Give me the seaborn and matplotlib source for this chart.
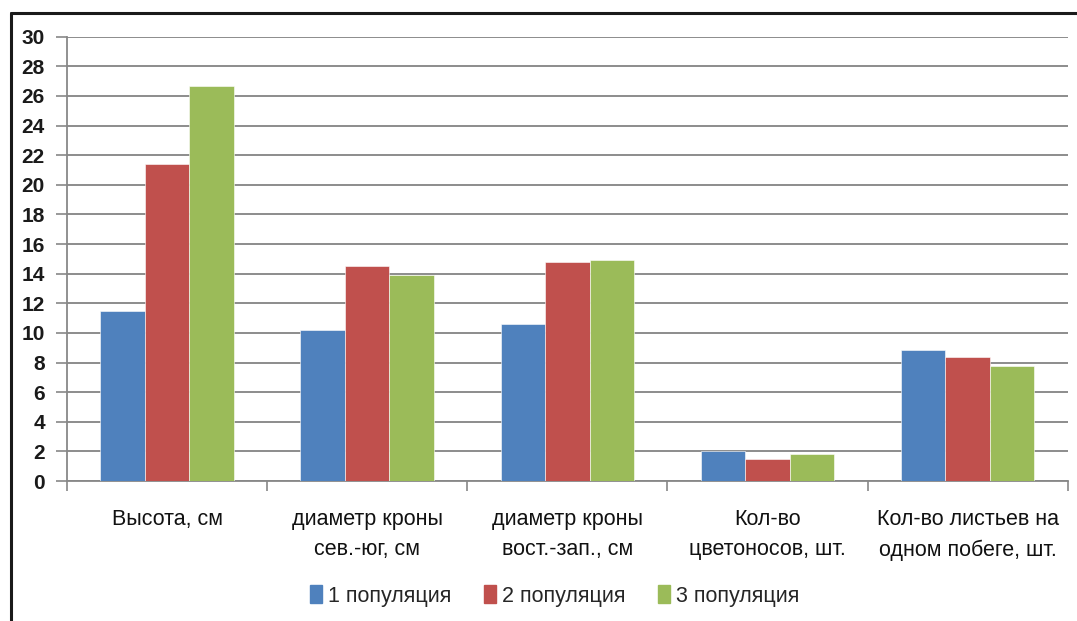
import pandas as pd
import seaborn as sns
import matplotlib.pyplot as plt
from matplotlib.lines import Line2D

# Chart data
categories = [
    "Высота, см",
    "диаметр кроны\nсев.-юг, см",
    "диаметр кроны\nвост.-зап., см",
    "Кол-во\nцветоносов, шт.",
    "Кол-во листьев на\nодном побеге, шт.",
]
series_names = ["1 популяция", "2 популяция", "3 популяция"]
pop1 = [11.5, 10.2, 10.6, 2.0, 8.85]
pop2 = [21.4, 14.5, 14.8, 1.5, 8.35]
pop3 = [26.7, 13.9, 14.9, 1.8, 7.75]
colors = ["#4F81BD", "#C0504D", "#9BBB59"]

rows = []
for name, vals in zip(series_names, [pop1, pop2, pop3]):
    for cat, v in zip(categories, vals):
        rows.append({"category": cat, "series": name, "value": v})
df = pd.DataFrame(rows)

sns.set_style("white")
plt.rcParams["font.family"] = ["Liberation Sans", "DejaVu Sans"]

fig = plt.figure(figsize=(10.77, 6.21), dpi=100)
ax = fig.add_axes([0.0622, 0.2254, 0.9292, 0.7155])

sns.barplot(data=df, x="category", y="value", hue="series", palette=colors,
            saturation=1, width=0.667, gap=0, ax=ax, legend=False, zorder=3,
            edgecolor="white", linewidth=0.4)

ax.set_ylim(0, 30)
ax.set_xlim(-0.5, len(categories) - 0.5)
ax.set_yticks(range(0, 31, 2))
ax.set_yticklabels([str(v) for v in range(0, 31, 2)], fontsize=15,
                   fontweight="bold", color="#1a1a1a")
ax.yaxis.grid(True, color="#8c8c8c", linewidth=1.4, zorder=0)
ax.set_axisbelow(True)

# category labels without ticks, boundary ticks as minor ticks
ax.set_xticks(range(len(categories)))
ax.set_xticklabels(categories, fontsize=15.5, linespacing=1.6, color="#111111")
ax.tick_params(axis="x", which="major", length=0, pad=20)
ax.set_xticks([i - 0.5 for i in range(len(categories) + 1)], minor=True)
ax.tick_params(axis="x", which="minor", length=7, width=1.2, color="#888888",
               direction="out", bottom=True)
ax.tick_params(axis="y", length=8, width=1.2, color="#888888", left=True,
               direction="out", pad=8)

for side in ["top", "right"]:
    ax.spines[side].set_visible(False)
ax.spines["left"].set_color("#888888")
ax.spines["left"].set_linewidth(1.3)
ax.spines["bottom"].set_color("#888888")
ax.spines["bottom"].set_linewidth(1.3)
ax.set_xlabel("")
ax.set_ylabel("")

# legend
handles = [plt.Rectangle((0, 0), 1, 1, color=c) for c in colors]
fig.legend(handles, series_names, loc="center", bbox_to_anchor=(0.515, 0.04),
           ncol=3, frameon=False, fontsize=15.5, handlelength=0.55,
           handleheight=0.9, handletextpad=0.3, columnspacing=1.5)

# outer frame (top and left)
fig.add_artist(Line2D([0.0102, 1.0], [1 - 12.5 / 621, 1 - 12.5 / 621],
                      transform=fig.transFigure, color="#1a1a1a", linewidth=2.2))
fig.add_artist(Line2D([0.0102, 0.0102], [0.0, 1 - 12.5 / 621],
                      transform=fig.transFigure, color="#1a1a1a", linewidth=2.2))

fig.savefig("out.png", dpi=100)
